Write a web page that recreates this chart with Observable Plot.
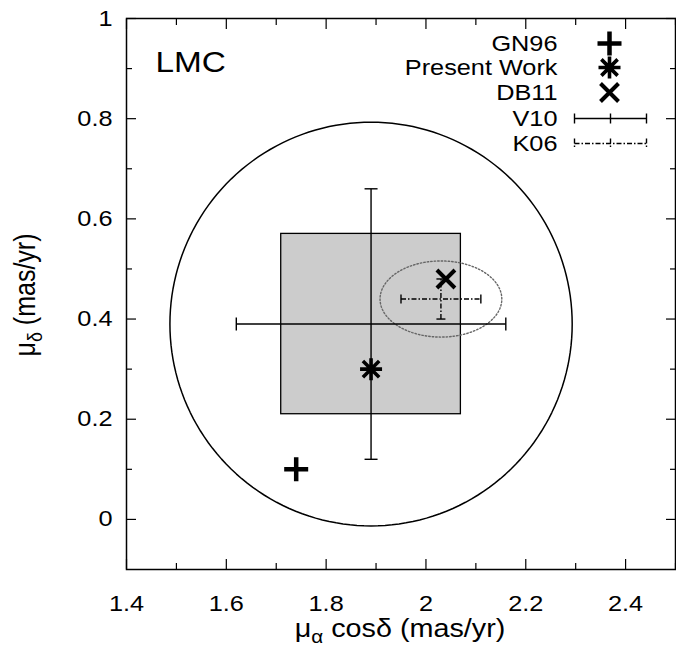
<!DOCTYPE html>
<html><head><meta charset="utf-8">
<script src="https://cdn.jsdelivr.net/npm/d3@7"></script>
<script src="https://cdn.jsdelivr.net/npm/@observablehq/plot@0.6"></script>
<style>body{margin:0;background:#fff}</style>
</head><body><div id="chart"></div>
<script>
// ---- tick values & labels ----
const xMajor = [1.4, 1.6, 1.8, 2.0, 2.2, 2.4];
const xMinor = [1.5, 1.7, 1.9, 2.1, 2.3, 2.5];
const xTickLabels = ["1.4", "1.6", "1.8", "2", "2.2", "2.4"];
const yMajor = [0, 0.2, 0.4, 0.6, 0.8, 1];
const yMinor = [0.1, 0.3, 0.5, 0.7, 0.9];
const yTickLabels = ["0", "0.2", "0.4", "0.6", "0.8", "1"];

// ---- point measurements ----
const markerNames = ["GN96", "Present Work", "DB11"];
const markerX = [1.74, 1.89, 2.04];
const markerY = [0.10, 0.30, 0.48];

// ---- error-bar measurements ----
const barNames = ["V10", "K06"];
const barX = [1.89, 2.03];
const barY = [0.39, 0.44];
const barEx = [0.27, 0.08];
const barEy = [0.27, 0.04];

// ---- regions ----
const circleCx = [1.89], circleCy = [0.39], circleR = [0.403];
const ellipseCx = [2.03], ellipseCy = [0.44], ellipseRx = [0.122], ellipseRy = [0.076];
const boxX1 = [1.71], boxX2 = [2.07], boxY1 = [0.21], boxY2 = [0.57];

const FONT = "'Liberation Sans', Arial, Helvetica, sans-serif";
const STRETCH = 1.15; // glyphs in the reference are horizontally widened

// outline points of circle / ellipse derived from their centre and radii
function outline(cx, cy, rx, ry) {
  return d3.range(0, 361, 2).map(a => ({x: cx + rx * Math.cos(a * Math.PI / 180), y: cy + ry * Math.sin(a * Math.PI / 180)}));
}
const circlePts = circleCx.flatMap((c, i) => outline(c, circleCy[i], circleR[i], circleR[i]));
const ellipsePts = ellipseCx.flatMap((c, i) => outline(c, ellipseCy[i], ellipseRx[i], ellipseRy[i]));
const boxes = boxX1.map((d, i) => ({x1: d, x2: boxX2[i], y1: boxY1[i], y2: boxY2[i]}));
const markers = markerNames.map((n, i) => ({name: n, x: markerX[i], y: markerY[i]}));
const bars = barNames.map((n, i) => ({name: n, x: barX[i], y: barY[i], ex: barEx[i], ey: barEy[i]}));

// ---- custom symbols ----
const rad = s => Math.sqrt(s / Math.PI);
const symPlus = {draw(c, s) { const r = rad(s); c.moveTo(-r, 0); c.lineTo(r, 0); c.moveTo(0, -r); c.lineTo(0, r); }};
const symStar = {draw(c, s) { const r = rad(s), d = r * 0.74; c.moveTo(-r, 0); c.lineTo(r, 0); c.moveTo(0, -r); c.lineTo(0, r); c.moveTo(-d, -d); c.lineTo(d, d); c.moveTo(-d, d); c.lineTo(d, -d); }};
const symTimes = {draw(c, s) { const r = rad(s); c.moveTo(-r, -r); c.lineTo(r, r); c.moveTo(-r, r); c.lineTo(r, -r); }};
const symVCap = {draw(c, s) { const r = rad(s); c.moveTo(0, -r); c.lineTo(0, r); }};
const symHCap = {draw(c, s) { const r = rad(s); c.moveTo(-r, 0); c.lineTo(r, 0); }};
const symErr = {draw(c, s) { const h = 5, w = 36; c.moveTo(-w, 0); c.lineTo(w, 0); c.moveTo(-w, -h); c.lineTo(-w, h); c.moveTo(w, -h); c.lineTo(w, h); c.moveTo(0, -h); c.lineTo(0, h); }};
const markerSym = {"GN96": symPlus, "Present Work": symStar, "DB11": symTimes};
const markerR = {"GN96": 12, "Present Work": 11, "DB11": 9};
const markerW = {"GN96": 4.5, "Present Work": 3.6, "DB11": 4};

const barStyle = {"V10": {strokeWidth: 1.4}, "K06": {strokeWidth: 1.4, strokeDasharray: "5,2,1.5,2"}};
const capR = {"V10": 6.5, "K06": 4.5};

const legendRows = ["GN96", "Present Work", "DB11", "V10", "K06"];
const legendDy = [25, 49, 74, 100, 125];

const marks = [
  Plot.rect(boxes, {x1: "x1", x2: "x2", y1: "y1", y2: "y2", fill: "#cccccc", stroke: "black", strokeWidth: 1.3}),
  Plot.line(circlePts, {x: "x", y: "y", stroke: "black", strokeWidth: 1.5}),
  Plot.line(ellipsePts, {x: "x", y: "y", stroke: "#666", strokeWidth: 1.4, strokeDasharray: "1.5,2"}),
];
for (const b of bars) {
  const st = {stroke: "black", ...barStyle[b.name]};
  marks.push(
    Plot.link([b], {x1: d => d.x - d.ex, x2: d => d.x + d.ex, y1: "y", y2: "y", ...st}),
    Plot.link([b], {x1: "x", x2: "x", y1: d => d.y - d.ey, y2: d => d.y + d.ey, ...st}),
    Plot.dot([b, b], {x: (d, i) => i ? d.x + d.ex : d.x - d.ex, y: "y", symbol: symVCap, r: capR[b.name], stroke: "black", fill: "none", strokeWidth: 1.4}),
    Plot.dot([b, b], {x: "x", y: (d, i) => i ? d.y + d.ey : d.y - d.ey, symbol: symHCap, r: capR[b.name], stroke: "black", fill: "none", strokeWidth: 1.4})
  );
}
for (const m of markers) {
  marks.push(Plot.dot([m], {x: "x", y: "y", symbol: markerSym[m.name], r: markerR[m.name], stroke: "black", fill: "none", strokeWidth: markerW[m.name]}));
}
// legend
legendRows.forEach((name, i) => {
  marks.push(Plot.text([name], {frameAnchor: "top-right", text: d => d, dx: -118, dy: legendDy[i], textAnchor: "end", lineAnchor: "middle", fontSize: 22, fill: "black"}));
  if (markerSym[name]) {
    marks.push(Plot.dot([name], {frameAnchor: "top-right", dx: -66, dy: legendDy[i], symbol: markerSym[name], r: markerR[name], stroke: "black", fill: "none", strokeWidth: markerW[name]}));
  } else {
    marks.push(Plot.dot([name], {frameAnchor: "top-right", dx: -65, dy: legendDy[i], symbol: symErr, r: 5, stroke: "black", fill: "none", ...barStyle[name]}));
  }
});
marks.push(Plot.text(["LMC"], {frameAnchor: "top-left", text: d => d, dx: 29, dy: 44, textAnchor: "start", lineAnchor: "middle", fontSize: 29, fill: "black"}));

// axes: inward ticks on all four sides
for (const anchor of ["bottom", "top"]) {
  marks.push(Plot.axisX({anchor, ticks: xMajor, tickSize: -10, fill: "none", label: null, strokeWidth: 1.2}));
  marks.push(Plot.axisX({anchor, ticks: xMinor, tickSize: -6, fill: "none", label: null, strokeWidth: 1.2}));
}
for (const anchor of ["left", "right"]) {
  marks.push(Plot.axisY({anchor, ticks: yMajor, tickSize: -10, fill: "none", label: null, strokeWidth: 1.2}));
  marks.push(Plot.axisY({anchor, ticks: yMinor, tickSize: -6, fill: "none", label: null, strokeWidth: 1.2}));
}
marks.push(Plot.axisX({anchor: "bottom", ticks: xMajor, tickSize: 0, tickPadding: 26, stroke: "none", label: null, fontSize: 22, fill: "black", tickFormat: (d, i) => xTickLabels[i]}));
marks.push(Plot.axisY({anchor: "left", ticks: yMajor, tickSize: 0, tickPadding: 14, stroke: "none", label: null, fontSize: 22, fill: "black", tickFormat: (d, i) => yTickLabels[i]}));
marks.push(Plot.frame({stroke: "black", strokeWidth: 1.5}));

const svg = Plot.plot({
  width: 676, height: 649,
  marginLeft: 126, marginRight: 1, marginTop: 18, marginBottom: 80,
  x: {domain: [1.4, 2.5]},
  y: {domain: [-0.1, 1]},
  style: {fontFamily: FONT, background: "white", color: "black", overflow: "visible"},
  marks
});
document.getElementById("chart").append(svg);

// widen every text glyph horizontally about its own anchor point
d3.select(svg).selectAll("text").each(function () {
  const t = this.getAttribute("transform");
  if (t) this.setAttribute("transform", t + ` scale(${STRETCH},1)`);
});

// axis titles with sub-scripted Greek letters
const g = d3.select(svg);
const xl = g.append("text").attr("transform", `translate(400,637) scale(${STRETCH},1)`).attr("text-anchor", "middle")
  .attr("font-family", FONT).attr("font-size", 25).attr("fill", "black");
xl.append("tspan").text("μ");
xl.append("tspan").attr("font-size", 18).attr("dy", 6).text("α");
xl.append("tspan").attr("dy", -6).text(" cosδ (mas/yr)");
const yl = g.append("text").attr("transform", `translate(35,295) rotate(-90) scale(1,${STRETCH})`).attr("text-anchor", "middle")
  .attr("font-family", FONT).attr("font-size", 25).attr("fill", "black");
yl.append("tspan").text("μ");
yl.append("tspan").attr("font-size", 18).attr("dy", 6).text("δ");
yl.append("tspan").attr("dy", -6).text(" (mas/yr)");
</script>
</body></html>
